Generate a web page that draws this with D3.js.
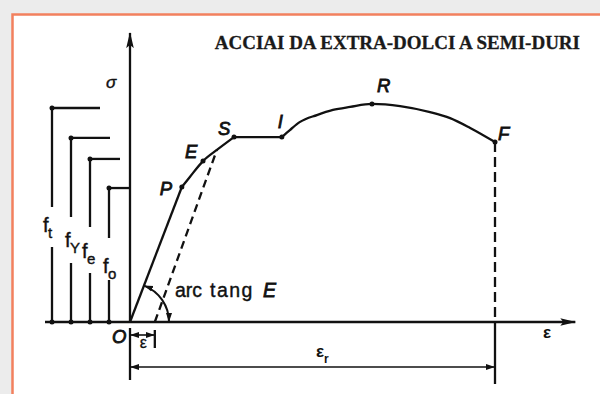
<!DOCTYPE html>
<html>
<head>
<meta charset="utf-8">
<script src="https://cdn.jsdelivr.net/npm/d3@7"></script>
<style>
  html, body { margin: 0; padding: 0; background: #ececec; }
  svg { display: block; }
</style>
</head>
<body>
<div id="chart"></div>
<script>
// Title of the slide
const title = "ACCIAI DA EXTRA-DOLCI A SEMI-DURI";

// Stress-strain curve
// strain in % of the strain at rupture (F), stress in % of f_t
const curveStrain = [0, 14.2, 16.4, 20.0, 23.8, 28.5, 41.6, 43.8, 46.6, 51.2, 55.6, 60.3, 66.3, 74.0, 82.2, 87.7, 93.2, 100];
const curveStress = [0, 63.1, 67.8, 75.2, 80.4, 86.4, 86.4, 89.7, 93.5, 96.7, 99.1, 100.5, 101.9, 100.9, 98.1, 95.3, 90.7, 84.1];

// Named points on the curve (index into the arrays above)
const pointNames = ["O", "P", "E", "S", "I", "R", "F"];
const pointIndex = [0, 1, 3, 5, 6, 12, 17];

// Limit stresses drawn on the left: f_t, f_y, f_e, f_o
const limitNames = ["t", "Y", "e", "o"];
const limitStress = [100, 86, 76.2, 62.6];

// Unloading (dashed) line: residual strain and the curve point it reaches
const residualStrain = 6.8;
const unloadIndex = 4;

// Layout
const width = 600, height = 394;
const x0 = 130, y0 = 322;   // origin O in pixels
const ink = "#111111";
const sans = "'Liberation Sans', Arial, sans-serif";

const svg = d3.select("#chart")
  .append("svg")
  .attr("width", width)
  .attr("height", height);

const xScale = d3.scaleLinear().domain([0, 100]).range([x0, 495]);
const yScale = d3.scaleLinear().domain([0, 100]).range([y0, 108]);

// Arrow heads
const defs = svg.append("defs");
defs.append("marker")
  .attr("id", "axisArrow")
  .attr("markerUnits", "userSpaceOnUse")
  .attr("viewBox", "0 -5 16 10")
  .attr("markerWidth", 16).attr("markerHeight", 10)
  .attr("refX", 15).attr("refY", 0)
  .attr("orient", "auto")
  .append("path").attr("d", "M0,-3.8L16,0L0,3.8L3,0Z").attr("fill", ink);
defs.append("marker")
  .attr("id", "dimArrow")
  .attr("markerUnits", "userSpaceOnUse")
  .attr("viewBox", "0 -4 9 8")
  .attr("markerWidth", 9).attr("markerHeight", 8)
  .attr("refX", 9).attr("refY", 0)
  .attr("orient", "auto-start-reverse")
  .append("path").attr("d", "M0,-3L9,0L0,3Z").attr("fill", ink);

// Slide frame
svg.append("rect")
  .attr("x", 0).attr("y", 0).attr("width", width).attr("height", height)
  .attr("fill", "#ececec");
svg.append("rect")
  .attr("x", 12.5).attr("y", 14.5).attr("width", width).attr("height", height)
  .attr("fill", "#ffffff")
  .attr("stroke", "#f2805e")
  .attr("stroke-width", 2.5);

// Title
svg.append("text")
  .attr("x", 580).attr("y", 49)
  .attr("text-anchor", "end")
  .attr("font-family", "'Liberation Serif', 'Times New Roman', serif")
  .attr("font-weight", "bold")
  .attr("font-size", 19)
  .attr("fill", "#1a1a1a")
  .attr("stroke", "#1a1a1a").attr("stroke-width", 0.3)
  .text(title);

const g = svg.append("g")
  .attr("stroke", ink)
  .attr("fill", "none")
  .attr("stroke-width", 2.3);

// Axes
g.append("line")
  .attr("x1", 45).attr("y1", y0).attr("x2", xScale(122)).attr("y2", y0)
  .attr("marker-end", "url(#axisArrow)");
g.append("line")
  .attr("x1", x0).attr("y1", y0).attr("x2", x0).attr("y2", yScale(135))
  .attr("marker-end", "url(#axisArrow)");

// Limit stress columns on the left
const colX = d3.scalePoint().domain(limitNames).range([52, 109]);
const barEnd = d3.scalePoint().domain(limitNames).range([100, 130]);
const gapTop = [207, 217, 227, 238];
const gapBottom = [247, 263, 273, 280];
const labelX = [43, 65, 82, 103];
const labelY = [232, 247, 258, 273];

limitNames.forEach((k, i) => {
  const x = colX(k), y = yScale(limitStress[i]);
  g.append("line").attr("x1", x).attr("y1", y).attr("x2", barEnd(k)).attr("y2", y);
  g.append("line").attr("x1", x).attr("y1", y).attr("x2", x).attr("y2", gapTop[i]);
  g.append("line").attr("x1", x).attr("y1", gapBottom[i]).attr("x2", x).attr("y2", y0);
  svg.append("circle").attr("cx", x).attr("cy", y).attr("r", 2.5).attr("fill", ink);
  svg.append("circle").attr("cx", x).attr("cy", y0).attr("r", 2.5).attr("fill", ink);
  const t = svg.append("text")
    .attr("x", labelX[i]).attr("y", labelY[i])
    .attr("font-family", sans)
    .attr("font-size", 20).attr("fill", ink)
    .attr("stroke", ink).attr("stroke-width", 0.4);
  t.append("tspan").text("f");
  t.append("tspan").attr("dx", -0.5).attr("dy", 6).attr("font-size", 15).text(k);
});

// The curve: straight elastic part, smooth hardening, flat yield, smooth up to rupture
const pts = curveStrain.map((s, i) => [xScale(s), yScale(curveStress[i])]);
const straight = d3.line();
const smooth = d3.line().curve(d3.curveMonotoneX);
g.append("path").attr("d", straight(pts.slice(0, 2)));
g.append("path").attr("d", smooth(pts.slice(1, 6)));
g.append("path").attr("d", straight(pts.slice(5, 7)));
g.append("path").attr("d", smooth(pts.slice(6)));

// Dots on the named points (not on O)
pointIndex.slice(1).forEach(i => {
  svg.append("circle").attr("cx", pts[i][0]).attr("cy", pts[i][1]).attr("r", 2.5).attr("fill", ink);
});

// Point letters
const letterOffset = [[-18, 21], [-22, 8], [-18, -3], [-16, -2], [-4, -9], [5, -12], [3, -2]];
pointNames.forEach((n, j) => {
  const p = pts[pointIndex[j]];
  svg.append("text")
    .attr("x", p[0] + letterOffset[j][0]).attr("y", p[1] + letterOffset[j][1])
    .attr("font-family", sans)
    .attr("font-style", "italic")
    .attr("font-size", 18.5)
    .attr("fill", ink).attr("stroke", ink).attr("stroke-width", 0.8)
    .text(n);
});

// Dashed unloading line, parallel to the elastic one
g.append("line")
  .attr("x1", xScale(residualStrain)).attr("y1", y0)
  .attr("x2", pts[unloadIndex][0]).attr("y2", pts[unloadIndex][1])
  .attr("stroke-dasharray", "8,5");

// Dashed drop from F to the strain axis, then the extension line
const F = pts[pointIndex[6]];
g.append("line")
  .attr("x1", F[0]).attr("y1", F[1]).attr("x2", F[0]).attr("y2", y0)
  .attr("stroke-dasharray", "10,5");
g.append("line").attr("x1", F[0]).attr("y1", y0).attr("x2", F[0]).attr("y2", 384);
g.append("line").attr("x1", x0).attr("y1", 328).attr("x2", x0).attr("y2", 380);

// Dimension lines: residual ε and ε_r
g.append("line")
  .attr("x1", x0).attr("y1", 335).attr("x2", xScale(residualStrain)).attr("y2", 335)
  .attr("stroke-width", 1.6)
  .attr("marker-start", "url(#dimArrow)").attr("marker-end", "url(#dimArrow)");
g.append("line")
  .attr("x1", xScale(residualStrain)).attr("y1", 330).attr("x2", xScale(residualStrain)).attr("y2", 348);
g.append("line")
  .attr("x1", x0).attr("y1", 367).attr("x2", F[0]).attr("y2", 367)
  .attr("stroke-width", 1.6)
  .attr("marker-start", "url(#dimArrow)").attr("marker-end", "url(#dimArrow)");

// Angle arc for arc tang E
const P = pts[pointIndex[1]];
const slope = Math.atan2(P[1] - y0, P[0] - x0);
const arcPath = d3.path();
arcPath.arc(x0, y0, 39, slope, 0, false);
g.append("path")
  .attr("d", arcPath.toString())
  .attr("stroke-width", 2)
  .attr("marker-start", "url(#dimArrow)").attr("marker-end", "url(#dimArrow)");

// Texts
const arcText = svg.append("text")
  .attr("y", 297)
  .attr("font-family", sans).attr("font-size", 19.5).attr("fill", ink)
  .attr("stroke", ink).attr("stroke-width", 0.4);
arcText.append("tspan").attr("x", 175).text("arc");
arcText.append("tspan").attr("x", 210).attr("letter-spacing", 1.5).text("tang");
arcText.append("tspan").attr("x", 263).attr("font-style", "italic")
  .attr("stroke-width", 0.8).text("E");

svg.append("text")
  .attr("x", 106).attr("y", 88)
  .attr("font-family", sans).attr("font-style", "italic").attr("font-size", 17)
  .attr("fill", ink).attr("stroke", ink).attr("stroke-width", 0.4).text("σ");

svg.append("text")
  .attr("x", 543).attr("y", 338)
  .attr("font-family", sans).attr("font-size", 17).attr("font-weight", "bold")
  .attr("fill", ink).text("ε");

svg.append("text")
  .attr("x", (x0 + xScale(residualStrain)) / 2 + 1).attr("y", 348)
  .attr("text-anchor", "middle")
  .attr("font-family", sans).attr("font-size", 16)
  .attr("fill", ink).attr("stroke", ink).attr("stroke-width", 0.3).text("ε");

const er = svg.append("text")
  .attr("x", 316).attr("y", 357)
  .attr("font-family", sans).attr("font-size", 17).attr("font-weight", "bold")
  .attr("fill", ink);
er.append("tspan").text("ε");
er.append("tspan").attr("dy", 6).attr("font-size", 12).text("r");
</script>
</body>
</html>
